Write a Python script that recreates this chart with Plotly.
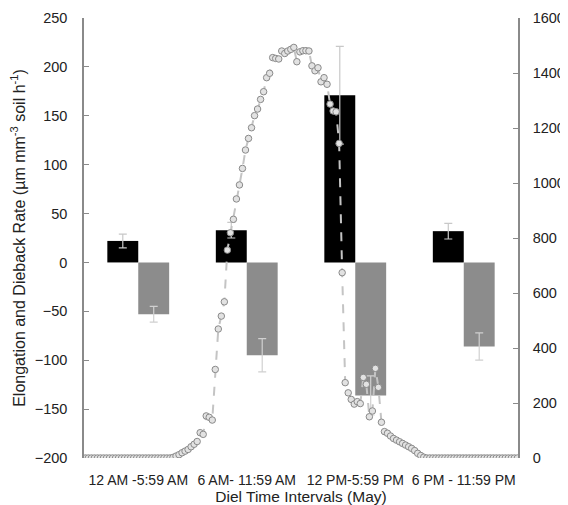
import plotly.graph_objects as go

categories = ["12 AM -5:59 AM", "6 AM- 11:59 AM", "12 PM-5:59 PM", "6 PM - 11:59 PM"]
elongation = [22, 33, 171, 32]
elongation_err = [7, 8, 50, 8]
dieback = [-53, -95, -136, -86]
dieback_err = [8, 17, 20, 14]

# 10-minute readings over the day (index 0 = 00:00, 143 = 23:50), right axis
light = [0] * 29 + [
    2, 7, 12, 19, 25, 31, 41, 50, 60, 92,
    86, 153, 148, 138, 322, 469, 516, 568, 756, 819,
    868, 942, 993, 1053, 1120, 1162, 1201, 1245, 1269, 1304,
    1332, 1383, 1399, 1456, 1453, 1451, 1480, 1471, 1480, 1486,
    1493, 1441, 1477, 1481, 1481, 1480, 1426, 1408, 1419, 1368,
    1383, 1359, 1287, 1262, 1259, 1144, 674, 274, 237, 213,
    196, 205, 198, 293, 268, 150, 171, 326, 257, 130,
    96, 90, 80, 71, 65, 59, 53, 47, 41, 35,
    27, 17, 9, 3,
]
light = light + [0] * (144 - len(light))
time_idx = list(range(len(light)))

FONT = "Liberation Sans, Arial, sans-serif"
TXT = "#222222"
fig = go.Figure()
fig.add_trace(go.Bar(
    x=categories, y=elongation, name="Elongation",
    marker=dict(color="#000000", line=dict(width=0)),
    error_y=dict(type="data", array=elongation_err, color="#c8c8c8", thickness=1.2, width=4),
    xaxis="x", yaxis="y",
))
fig.add_trace(go.Bar(
    x=categories, y=dieback, name="Dieback",
    marker=dict(color="#8c8c8c", line=dict(width=0)),
    error_y=dict(type="data", array=dieback_err, color="#d0d0d0", thickness=1.2, width=4),
    xaxis="x", yaxis="y",
))
fig.add_trace(go.Scatter(
    x=time_idx, y=light, mode="lines+markers", name="PAR",
    line=dict(color="#c4c4c4", width=2, dash="dash"),
    marker=dict(symbol="circle", size=6.5, color="#e2e2e2", line=dict(color="#8a8a8a", width=1)),
    xaxis="x2", yaxis="y2",
))

fig.update_layout(
    width=560, height=497,
    margin=dict(l=76, r=50, t=10, b=47, autoexpand=False),
    paper_bgcolor="white", plot_bgcolor="white",
    showlegend=False,
    barmode="group", bargap=0.43, bargroupgap=0,
    font=dict(family=FONT, size=14, color=TXT),
    xaxis=dict(
        type="category", categoryorder="array", categoryarray=categories,
        range=[-0.5, 3.5], showline=False, showgrid=False, ticks="",
        tickfont=dict(size=14, color=TXT), ticklabelstandoff=12,
        automargin=False,
        title=dict(text="Diel Time Intervals (May)", font=dict(size=15.5, color=TXT), standoff=3),
    ),
    xaxis2=dict(
        overlaying="x", anchor="y2", range=[-0.45, 143.2],
        visible=False, showgrid=False,
    ),
    xaxis3=dict(
        overlaying="x", anchor="free", position=200 / 450,
        type="category", categoryorder="array", categoryarray=categories,
        range=[-0.5, 3.5], tickson="boundaries", ticks="outside", ticklen=4,
        tickcolor="#555555", showticklabels=False, showline=True,
        linecolor="#444444", linewidth=1, showgrid=False,
    ),
    yaxis=dict(
        range=[-200, 250], dtick=50, showgrid=False, zeroline=False,
        showline=True, linecolor="#8a8a8a", linewidth=1.5,
        ticks="inside", ticklen=5, tickcolor="#8a8a8a",
        tickfont=dict(size=14.5, color=TXT), ticklabelstandoff=12,
        automargin=False,
        title=dict(text="Elongation and Dieback Rate (µm mm<sup>-3</sup> soil h<sup>-1</sup>)",
                   font=dict(size=16, color=TXT), standoff=14),
    ),
    yaxis2=dict(
        overlaying="y", side="right", anchor="x2",
        range=[0, 1600], dtick=200, showgrid=False, zeroline=False,
        showline=True, linecolor="#8a8a8a", linewidth=1.5,
        ticks="inside", ticklen=5, tickcolor="#8a8a8a",
        tickfont=dict(size=14.5, color=TXT), ticklabelstandoff=10,
        automargin=False,
    ),
)

fig.write_html("out.html")
